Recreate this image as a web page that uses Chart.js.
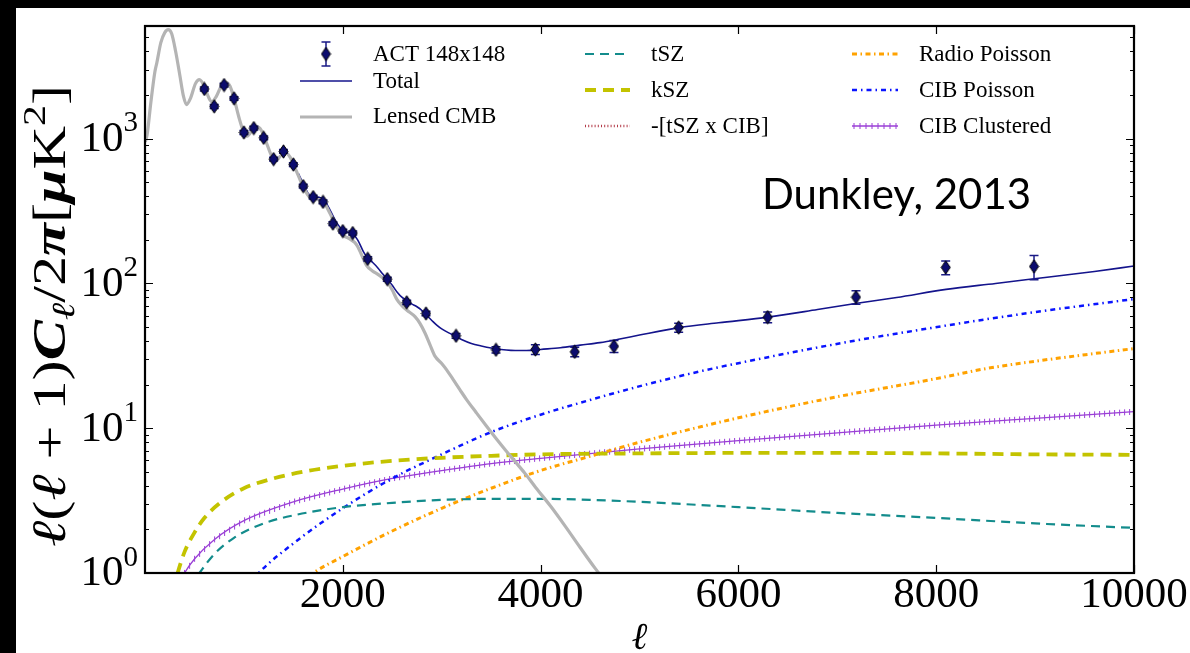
<!DOCTYPE html>
<html><head><meta charset="utf-8">
<script src="https://cdn.jsdelivr.net/npm/chart.js@4.4.0/dist/chart.umd.min.js"></script>
<style>
html,body{margin:0;padding:0;background:#000;overflow:hidden;}
#wrap{position:absolute;left:0;top:0;width:1190px;height:653px;}
canvas{display:block;}
</style></head><body>
<div id="wrap"><canvas id="c" width="1190" height="653"></canvas></div>
<script>
// ---------- data ----------
const actEll = [600,700,800,900,1000,1100,1200,1300,1400,1500,1600,1700,1800,1900,2000,2100,2252,2450,2646,2841,3145,3549,3947,4345,4742,5396,6296,7189,8096,8989];
const actVal = [2203,1670,2346,1896,1104,1183,1014,722,816,663,470,395,366,259,230,223,148,107,74,62,43.5,34.8,35.0,33.7,36.8,49.6,58.5,80.4,129,131];
const actErr = [70,55,70,55,35,35,30,22,24,20,14,12,11,8,7,7,5,3.5,2.6,2.3,1.6,1.7,2.7,2.5,3.5,3.5,5,8.5,14,25];

const cmbEll = [2,20,60,100,120,160,200,235,270,310,350,390,420,460,510,550,600,640,675,720,770,820,860,900,950,1000,1030,1080,1130,1180,1230,1280,1320,1370,1420,1470,1530,1590,1650,1700,1760,1810,1870,1930,2000,2060,2120,2150,2208,2241,2300,2359,2444,2500,2545,2600,2646,2730,2780,2831,2880,2932,3000,3050,3120,3185,3253,3350,3450,3550,3650,3750,3850,3950,4100,4250,4400,4550,4700];
const cmbVal = [950,1050,1800,2900,3350,4600,5400,5660,5300,4000,2800,1950,1720,1900,2400,2560,2300,1950,1800,1950,2300,2450,2300,1900,1400,1100,1040,1130,1210,1130,930,760,700,760,805,740,600,480,405,378,380,362,305,252,215,205,192,180,148,133,122,115,103,90,78,70,65.5,59,53,45.5,38,31.5,28,25.3,21.5,18.4,15.7,12.8,10.4,8.5,7,5.8,4.8,3.9,2.9,2.1,1.5,1.08,0.8];

const totEll = [1550,1600,1650,1700,1760,1810,1870,1930,2000,2050,2100,2150,2208,2252,2300,2359,2400,2450,2500,2550,2600,2646,2700,2750,2800,2850,2900,2950,3000,3100,3200,3300,3400,3500,3600,3700,3800,3900,4000,4200,4400,4600,4800,5000,5400,5800,6300,6800,7200,7600,8100,8600,9100,9600,10000];
const totVal = [575,488,418,396,394,378,322,268,232,226,220,200,166,149,140,127,117,107,97,87,80,76,72,69,65,60,55.5,51.5,48.5,44.5,41,38.5,37,35.8,35,34.5,34.4,34.5,35,36,37.5,39,41.3,44,49.5,53.5,58.5,66,73,80,91,100,110,121,132];

const tszEll = [450,550,700,900,1200,1500,2000,2500,3000,3500,4000,4500,5000,6000,7000,8000,9000,10000];
const tszVal = [0.8,1.0,1.35,1.75,2.2,2.5,2.85,3.05,3.2,3.25,3.25,3.2,3.1,2.85,2.6,2.4,2.2,2.05];

const kszEll = [280,330,400,500,600,800,1000,1300,1600,2000,2500,3000,3500,4000,5000,6000,7000,8000,9000,10000];
const kszVal = [0.75,1.0,1.4,1.9,2.4,3.2,3.85,4.5,5.0,5.5,5.95,6.25,6.45,6.6,6.7,6.75,6.75,6.7,6.6,6.55];

const tszCibEll = [];
const tszCibVal = [];

const radEll = [1550,1700,2000,2500,3000,3500,4000,4500,5000,6000,7000,8000,8500,9000,10000];
const radVal = [0.83,1.0,1.3,1.95,2.8,3.85,5.1,6.4,8.0,11.8,16.5,22,25.8,29,35.5];

const cibpEll = [1000,1150,1500,2000,2500,3000,3500,4000,4533,5100,5680,6200,6620,7200,7970,8500,9150,10000];
const cibpVal = [0.75,1.0,1.6,2.8,4.5,6.6,9.4,12.4,15.9,20.3,25.3,30,34.2,40.5,49.5,56.5,65.5,78];

const clusEll = [350,400,500,700,1000,1500,2000,2500,3000,3500,4000,5000,6000,7000,8000,9000,10000];
const clusVal = [0.85,1.0,1.25,1.7,2.3,3.1,3.8,4.5,5.1,5.7,6.2,7.2,8.2,9.3,10.5,11.7,13];

const xTickValues = [2000,4000,6000,8000,10000];
const xTickLabels = ['2000','4000','6000','8000','10000'];
const yTickValues = [1,10,100,1000];
const yTickExp = ['0','1','2','3'];

// ---------- helpers ----------
const pts = (xs, ys) => xs.map((x, i) => ({x: x, y: ys[i]}));
const SERIF = '"Liberation Serif","DejaVu Serif",serif';

// thin diamond marker
const diamond = document.createElement('canvas');
diamond.width = 11; diamond.height = 15;
(function(){
  const g = diamond.getContext('2d');
  g.beginPath(); g.moveTo(5.5,0.8); g.lineTo(10,7.5); g.lineTo(5.5,14.2); g.lineTo(1,7.5); g.closePath();
  g.fillStyle = '#0c0c6e'; g.fill(); g.lineWidth = 1; g.strokeStyle = '#000'; g.stroke();
})();

const lineBase = {showLine: true, pointRadius: 0, pointHoverRadius: 0, fill: false, cubicInterpolationMode: 'monotone'};

const datasets = [
  {label: 'ACT 148x148', data: pts(actEll, actVal), showLine: false, pointStyle: diamond, pointRadius: 6, order: 0},
  Object.assign({label: 'Total', data: pts(totEll, totVal), borderColor: '#14148c', borderWidth: 1.6, order: 3}, lineBase),
  Object.assign({label: 'Lensed CMB', data: pts(cmbEll, cmbVal), borderColor: '#b4b4b4', borderWidth: 3.2, order: 2}, lineBase),
  Object.assign({label: 'tSZ', data: pts(tszEll, tszVal), borderColor: '#138c8c', borderWidth: 2.2, borderDash: [9,6], order: 4}, lineBase),
  Object.assign({label: 'kSZ', data: pts(kszEll, kszVal), borderColor: '#c3c300', borderWidth: 3.8, borderDash: [11,7], order: 5}, lineBase),
  Object.assign({label: '-[tSZ x CIB]', data: pts(tszCibEll, tszCibVal), borderColor: '#b23a48', borderWidth: 2.4, borderDash: [1,2.2], order: 6}, lineBase),
  Object.assign({label: 'Radio Poisson', data: pts(radEll, radVal), borderColor: '#ffa200', borderWidth: 3, borderDash: [5,3.5,1.5,3.5], order: 7}, lineBase),
  Object.assign({label: 'CIB Poisson', data: pts(cibpEll, cibpVal), borderColor: '#0a14ff', borderWidth: 2.5, borderDash: [5,4,1.5,4], order: 8}, lineBase),
  Object.assign({label: 'CIB Clustered', data: pts(clusEll, clusVal), borderColor: '#9a3fd6', borderWidth: 1.3, order: 9}, lineBase)
];

function drawErrorBars(chart){
  const ctx = chart.ctx, xs = chart.scales.x, ys = chart.scales.y;
  ctx.save();
  ctx.strokeStyle = '#1a1a86'; ctx.lineWidth = 1.5;
  for (let i = 0; i < actEll.length; i++){
    const x = xs.getPixelForValue(actEll[i]);
    const y1 = ys.getPixelForValue(actVal[i] - actErr[i]);
    const y2 = ys.getPixelForValue(actVal[i] + actErr[i]);
    ctx.beginPath();
    ctx.moveTo(x, y1); ctx.lineTo(x, y2);
    ctx.moveTo(x - 4.5, y1); ctx.lineTo(x + 4.5, y1);
    ctx.moveTo(x - 4.5, y2); ctx.lineTo(x + 4.5, y2);
    ctx.stroke();
  }
  ctx.restore();
}

function drawPlusTicks(chart, meta, color){
  const ctx = chart.ctx, a = chart.chartArea;
  const P = meta.data;
  ctx.save();
  ctx.beginPath(); ctx.rect(a.left, a.top, a.right - a.left, a.bottom - a.top); ctx.clip();
  ctx.strokeStyle = color; ctx.lineWidth = 1;
  ctx.beginPath();
  const step = 5;
  let next = P[0].x;
  for (let i = 0; i < P.length - 1; i++){
    const p = P[i], q = P[i+1];
    while (next <= q.x){
      const t = (next - p.x) / (q.x - p.x || 1);
      const y = p.y + t * (q.y - p.y);
      ctx.moveTo(next, y - 3); ctx.lineTo(next, y + 3);
      next += step;
    }
  }
  ctx.stroke();
  ctx.restore();
}

function legendHandle(ctx, ds, x1, x2, y){
  ctx.save();
  ctx.strokeStyle = ds.borderColor; ctx.lineWidth = ds.borderWidth;
  ctx.setLineDash(ds.borderDash || []);
  ctx.beginPath(); ctx.moveTo(x1, y); ctx.lineTo(x2, y); ctx.stroke();
  ctx.restore();
}

const deco = {
  id: 'deco',
  beforeDraw(chart){
    const c = chart.ctx;
    c.save();
    c.fillStyle = '#000'; c.fillRect(0, 0, chart.width, chart.height);
    c.fillStyle = '#fff'; c.fillRect(16, 8, chart.width - 16, chart.height - 8);
    c.restore();
  },
  beforeDatasetDraw(chart, args){
    if (args.index === 0) drawErrorBars(chart);
  },
  afterDatasetDraw(chart, args){
    const ds = chart.data.datasets[args.index];
    if (ds.label === 'CIB Clustered') drawPlusTicks(chart, args.meta, ds.borderColor);
  },
  afterDraw(chart){
    const ctx = chart.ctx, a = chart.chartArea, xs = chart.scales.x, ys = chart.scales.y;
    ctx.save();
    // ticks (inward)
    ctx.strokeStyle = '#000'; ctx.lineWidth = 1.2;
    ctx.beginPath();
    for (let k = 0; k <= 3; k++){
      for (let m = 1; m <= 9; m++){
        const v = m * Math.pow(10, k);
        if (v > ys.max) continue;
        const y = Math.round(ys.getPixelForValue(v)) + 0.5;
        const len = m === 1 ? 8 : 4;
        ctx.moveTo(a.left, y); ctx.lineTo(a.left + len, y);
        ctx.moveTo(a.right, y); ctx.lineTo(a.right - len, y);
      }
    }
    for (const v of xTickValues){
      const x = Math.round(xs.getPixelForValue(v)) + 0.5;
      ctx.moveTo(x, a.bottom); ctx.lineTo(x, a.bottom - 8);
      ctx.moveTo(x, a.top); ctx.lineTo(x, a.top + 8);
    }
    ctx.stroke();
    // frame
    ctx.lineWidth = 2.2;
    ctx.strokeRect(a.left, a.top, a.right - a.left, a.bottom - a.top);

    // y tick labels 10^k
    ctx.fillStyle = '#000';
    ctx.textBaseline = 'middle';
    for (let i = 0; i < yTickValues.length; i++){
      const y = ys.getPixelForValue(yTickValues[i]);
      ctx.font = '29px ' + SERIF;
      const we = ctx.measureText(yTickExp[i]).width;
      ctx.textAlign = 'right';
      ctx.fillText(yTickExp[i], a.left - 7, y - 15);
      ctx.font = '43px ' + SERIF;
      ctx.fillText('10', a.left - 7 - we, y + 1);
    }

    // x axis title
    ctx.textAlign = 'center'; ctx.textBaseline = 'alphabetic';
    ctx.font = 'italic 38px ' + SERIF;
    ctx.fillText('\u2113', (a.left + a.right) / 2, 649);

    // y axis title (rotated)
    const parts = [
      {t: '\u2113', f: 'italic 48px', dy: 0},
      {t: '(', f: '46px', dy: 0},
      {t: '\u2113', f: 'italic 48px', dy: 0},
      {t: ' + ', f: '46px', dy: 0},
      {t: '1)', f: '46px', dy: 0},
      {t: 'C', f: 'italic bold 46px', dy: 0},
      {t: '\u2113', f: 'italic 32px', dy: 9},
      {t: '/2', f: '46px', dy: 0},
      {t: '\u03C0', f: 'italic bold 46px', dy: 0},
      {t: '[', f: '46px', dy: 0},
      {t: '\u03BC', f: 'italic bold 46px', dy: 0},
      {t: 'K', f: '46px', dy: 0},
      {t: '2', f: '32px', dy: -20},
      {t: ']', f: '46px', dy: 0}
    ];
    let total = 0;
    for (const p of parts){ ctx.font = p.f + ' ' + SERIF; p.w = ctx.measureText(p.t).width; total += p.w; }
    const target = 462;
    ctx.save();
    ctx.translate(50, 316);
    ctx.rotate(-Math.PI / 2);
    ctx.scale(target / total, 1);
    ctx.textAlign = 'left'; ctx.textBaseline = 'alphabetic';
    let cx = -total / 2;
    for (const p of parts){
      ctx.font = p.f + ' ' + SERIF;
      ctx.fillText(p.t, cx, 15 + p.dy);
      cx += p.w;
    }
    ctx.restore();

    // annotation
    ctx.font = '42px Lato, "Open Sans", sans-serif';
    ctx.textAlign = 'left'; ctx.textBaseline = 'alphabetic';
    ctx.fillText('Dunkley, 2013', 762, 209);

    // legend
    const D = chart.data.datasets;
    ctx.font = '23px ' + SERIF;
    ctx.textBaseline = 'middle'; ctx.textAlign = 'left';
    // column 1
    ctx.save();
    ctx.strokeStyle = '#1a1a86'; ctx.lineWidth = 1.5;
    ctx.beginPath();
    ctx.moveTo(326, 42); ctx.lineTo(326, 66);
    ctx.moveTo(321.5, 42); ctx.lineTo(330.5, 42);
    ctx.moveTo(321.5, 66); ctx.lineTo(330.5, 66);
    ctx.stroke();
    ctx.drawImage(diamond, 326 - 5.5, 54 - 7.5);
    ctx.restore();
    ctx.fillText(D[0].label, 373, 55);
    legendHandle(ctx, D[1], 300, 352, 81);
    ctx.fillText(D[1].label, 373, 82);
    legendHandle(ctx, D[2], 300, 352, 117);
    ctx.fillText(D[2].label, 373, 117);
    // column 2
    const c2 = [[3, 54], [4, 90], [5, 126]];
    for (const [i, y] of c2){ legendHandle(ctx, D[i], 585, 630, y); ctx.fillText(D[i].label, 651, y + 1); }
    // column 3
    const c3 = [[6, 54], [7, 90], [8, 126]];
    for (const [i, y] of c3){ legendHandle(ctx, D[i], 852, 898, y); ctx.fillText(D[i].label, 919, y + 1); }
    // ticks on CIB clustered legend handle
    ctx.strokeStyle = D[8].borderColor; ctx.lineWidth = 1;
    ctx.beginPath();
    for (let x = 854; x <= 896; x += 6){ ctx.moveTo(x, 123); ctx.lineTo(x, 129); }
    ctx.stroke();
    ctx.restore();
  }
};

new Chart(document.getElementById('c'), {
  type: 'scatter',
  data: {datasets: datasets},
  options: {
    responsive: false,
    animation: false,
    devicePixelRatio: 1,
    events: [],
    layout: {padding: {left: 0, right: 56, top: 26, bottom: 0}},
    plugins: {legend: {display: false}, tooltip: {enabled: false}},
    scales: {
      x: {
        type: 'linear', position: 'bottom', min: 0, max: 10000,
        grid: {display: false, drawTicks: false}, border: {display: false},
        afterBuildTicks: (s) => { s.ticks = xTickValues.map(v => ({value: v})); },
        afterFit: (s) => { s.height = 80; },
        ticks: {
          autoSkip: false, maxRotation: 0, padding: -3, color: '#000',
          font: {family: SERIF, size: 43},
          callback: (v) => { const i = xTickValues.indexOf(v); return i >= 0 ? xTickLabels[i] : ''; }
        }
      },
      y: {
        type: 'logarithmic', position: 'left', min: 1, max: 6000,
        grid: {display: false, drawTicks: false}, border: {display: false},
        ticks: {display: false},
        afterFit: (s) => { s.width = 145; }
      }
    }
  },
  plugins: [deco]
});
</script>
</body></html>
